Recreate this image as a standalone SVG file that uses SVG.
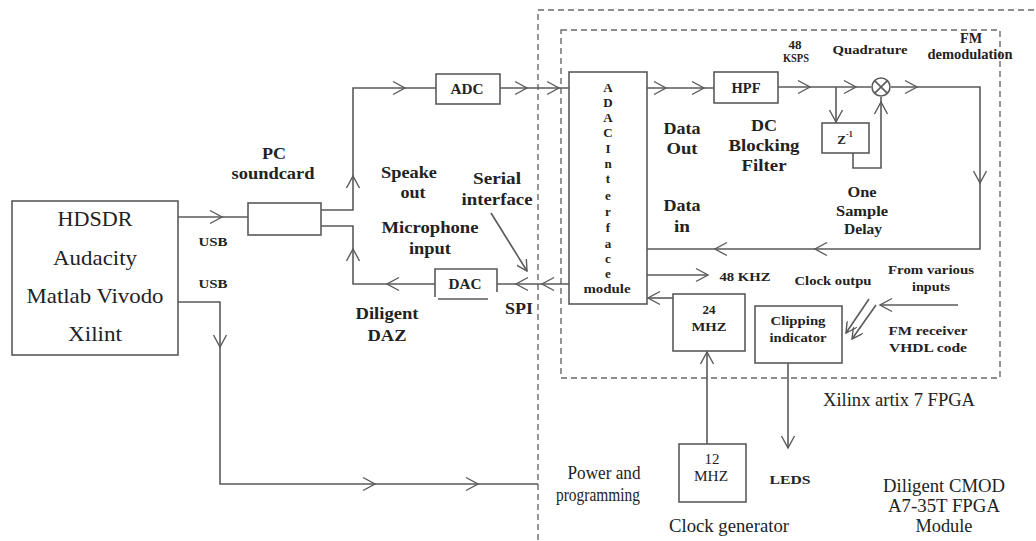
<svg xmlns="http://www.w3.org/2000/svg" xmlns:xlink="http://www.w3.org/1999/xlink" width="1036" height="541" viewBox="0 0 1036 541">
  <style>
    .bx{fill:#fff;stroke:#5a5a5a;stroke-width:1.6}
    .ln{fill:none;stroke:#5a5a5a;stroke-width:1.6}
    .dash{fill:none;stroke:#6a6a6a;stroke-width:1.4;stroke-dasharray:6 4}
    .ch{fill:none;stroke:#5a5a5a;stroke-width:1.4}
    text{font-family:"Liberation Serif","Times New Roman",serif;fill:#222;text-anchor:middle;dominant-baseline:central}
    .b{font-weight:bold;font-size:16px}
    .bm{font-weight:bold;font-size:14px}
    .bs{font-weight:bold;font-size:13px}
    .r{font-size:18.5px}
    .rl{font-size:21px}
  </style>
  <defs>
    <!-- open chevron arrowhead, tip at origin, pointing +x -->
    <path id="chev" d="M-12,-6.5 L0,0 L-12,6.5" class="ch"/>
    <marker id="tipm" viewBox="0 0 12 12" refX="11" refY="6" markerWidth="12" markerHeight="12" markerUnits="userSpaceOnUse" orient="auto">
      <path d="M0,0 L11,6 L0,12" fill="none" stroke="#5a5a5a" stroke-width="1.4"/>
    </marker>
  </defs>

  <!-- board and FPGA outlines -->
  <g id="board-outline">
    <rect class="dash" x="538" y="10" width="530" height="560"/>
  </g>
  <g id="fpga-outline">
    <rect class="dash" x="561" y="30" width="439" height="348"/>
  </g>

  <!-- connectors -->
  <g id="connectors">
    <!-- USB to soundcard -->
    <path class="ln" d="M178,217 H248"/>
    <use xlink:href="#chev" transform="translate(222,217)"/>
    <!-- USB power and programming -->
    <path class="ln" d="M178,302 H220 V484 H538"/>
    <use xlink:href="#chev" transform="translate(220,347) rotate(90)"/>
    <use xlink:href="#chev" transform="translate(375,484)"/>
    <use xlink:href="#chev" transform="translate(478,484)"/>
    <!-- speaker out to ADC -->
    <path class="ln" d="M321,210 H353 V88 H436"/>
    <use xlink:href="#chev" transform="translate(353,176) rotate(-90)"/>
    <use xlink:href="#chev" transform="translate(405,88)"/>
    <!-- ADC to interface -->
    <path class="ln" d="M500,88 H569"/>
    <use xlink:href="#chev" transform="translate(527,88)"/>
    <use xlink:href="#chev" transform="translate(559,88)"/>
    <!-- interface to HPF -->
    <path class="ln" d="M647,88 H714"/>
    <use xlink:href="#chev" transform="translate(666,88)"/>
    <use xlink:href="#chev" transform="translate(704,88)"/>
    <!-- HPF to mixer, tap to delay -->
    <path class="ln" d="M778,87 H871"/>
    <use xlink:href="#chev" transform="translate(810,87)"/>
    <use xlink:href="#chev" transform="translate(856,87)"/>
    <path class="ln" d="M836,87 V123"/>
    <use xlink:href="#chev" transform="translate(836,122) rotate(90)"/>
    <!-- delay to mixer -->
    <path class="ln" d="M853,153 V168 H881 V97"/>
    <use xlink:href="#chev" transform="translate(881,102) rotate(-90)"/>
    <!-- mixer output back to interface -->
    <path class="ln" d="M891,87 H980 V249 H647"/>
    <use xlink:href="#chev" transform="translate(917,87)"/>
    <use xlink:href="#chev" transform="translate(980,183) rotate(90)"/>
    <use xlink:href="#chev" transform="translate(815,249) rotate(180)"/>
    <use xlink:href="#chev" transform="translate(715,249) rotate(180)"/>
    <!-- 48 KHZ clock -->
    <path class="ln" d="M647,275 H708"/>
    <use xlink:href="#chev" transform="translate(708,275)"/>
    <!-- 24 MHZ to interface -->
    <path class="ln" d="M673,298 H648"/>
    <use xlink:href="#chev" transform="translate(648,298) rotate(180)"/>
    <!-- 12 MHZ to 24 MHZ -->
    <path class="ln" d="M707,444 V352"/>
    <use xlink:href="#chev" transform="translate(707,352) rotate(-90)"/>
    <!-- clipping to LEDs -->
    <path class="ln" d="M788,363 V448"/>
    <use xlink:href="#chev" transform="translate(788,448) rotate(90)"/>
    <!-- interface to DAC to microphone input -->
    <path class="ln" d="M569,284 H497"/>
    <use xlink:href="#chev" transform="translate(542,284) rotate(180)"/>
    <use xlink:href="#chev" transform="translate(516,284) rotate(180)"/>
    <path class="ln" d="M435,284 H353 V226 H321"/>
    <use xlink:href="#chev" transform="translate(387,284) rotate(180)"/>
    <use xlink:href="#chev" transform="translate(353,249) rotate(-90)"/>
    <!-- serial interface pointer -->
    <path class="ln" d="M491,213 L527,271" marker-end="url(#tipm)"/>
    <!-- inputs to clipping indicator -->
    <path class="ln" d="M958,305 H881"/>
    <use xlink:href="#chev" transform="translate(880,305) rotate(180)"/>
    <path class="ln" d="M869,299 L846,333" marker-end="url(#tipm)"/>
    <path class="ln" d="M876,305 L852,339" marker-end="url(#tipm)"/>
  </g>

  <!-- nodes -->
  <g id="pc-software">
    <rect class="bx" x="12" y="201" width="166" height="154"/>
    <text class="rl" x="95" y="219" textLength="75" lengthAdjust="spacingAndGlyphs">HDSDR</text>
    <text class="rl" x="95" y="258" textLength="84" lengthAdjust="spacingAndGlyphs">Audacity</text>
    <text class="rl" x="95" y="296" textLength="137" lengthAdjust="spacingAndGlyphs">Matlab Vivodo</text>
    <text class="rl" x="95" y="334" textLength="54" lengthAdjust="spacingAndGlyphs">Xilint</text>
  </g>
  <g id="usb-labels">
    <text class="bs" x="213" y="241" font-size="11.5" textLength="29" lengthAdjust="spacingAndGlyphs">USB</text>
    <text class="bs" x="213" y="283" font-size="11.5" textLength="29" lengthAdjust="spacingAndGlyphs">USB</text>
  </g>
  <g id="pc-soundcard">
    <rect class="bx" x="248" y="203" width="73" height="32"/>
    <text class="b" x="274" y="153" textLength="24" lengthAdjust="spacingAndGlyphs">PC</text>
    <text class="b" x="273" y="173" textLength="83" lengthAdjust="spacingAndGlyphs">soundcard</text>
  </g>
  <g id="audio-labels">
    <text class="b" x="409" y="172" textLength="56" lengthAdjust="spacingAndGlyphs">Speake</text>
    <text class="b" x="413" y="192" textLength="25" lengthAdjust="spacingAndGlyphs">out</text>
    <text class="b" x="497" y="178" textLength="48" lengthAdjust="spacingAndGlyphs">Serial</text>
    <text class="b" x="497" y="199" textLength="71" lengthAdjust="spacingAndGlyphs">interface</text>
    <text class="b" x="430" y="227" textLength="97" lengthAdjust="spacingAndGlyphs">Microphone</text>
    <text class="b" x="430" y="248" textLength="42" lengthAdjust="spacingAndGlyphs">input</text>
    <text class="b" x="519" y="308" textLength="28" lengthAdjust="spacingAndGlyphs">SPI</text>
    <text class="b" x="387" y="313" textLength="63" lengthAdjust="spacingAndGlyphs">Diligent</text>
    <text class="b" x="387" y="335" textLength="39" lengthAdjust="spacingAndGlyphs">DAZ</text>
  </g>
  <g id="adc">
    <rect class="bx" x="436" y="74" width="64" height="30"/>
    <text class="bm" x="467" y="89" textLength="33" lengthAdjust="spacingAndGlyphs">ADC</text>
  </g>
  <g id="dac">
    <path class="ln" d="M435,297 V269 H497 V292"/>
    <path class="ln" d="M438,299 H488"/>
    <text class="bm" x="465" y="284" textLength="33" lengthAdjust="spacingAndGlyphs">DAC</text>
  </g>
  <g id="adac-interface">
    <rect class="bx" x="569" y="72" width="78" height="232"/>
    <g class="bs">
      <text x="608" y="87">A</text>
      <text x="608" y="102">D</text>
      <text x="608" y="117">A</text>
      <text x="608" y="132">C</text>
      <text x="608" y="148">I</text>
      <text x="608" y="163">n</text>
      <text x="608" y="178">t</text>
      <text x="608" y="195">e</text>
      <text x="608" y="211">r</text>
      <text x="608" y="227">f</text>
      <text x="608" y="243">a</text>
      <text x="608" y="258">c</text>
      <text x="608" y="273">e</text>
      <text x="607" y="288" textLength="47" lengthAdjust="spacingAndGlyphs">module</text>
    </g>
  </g>
  <g id="data-labels">
    <text class="b" x="682" y="128" textLength="37" lengthAdjust="spacingAndGlyphs">Data</text>
    <text class="b" x="682" y="148" textLength="31" lengthAdjust="spacingAndGlyphs">Out</text>
    <text class="b" x="682" y="205" textLength="37" lengthAdjust="spacingAndGlyphs">Data</text>
    <text class="b" x="682" y="226" textLength="16" lengthAdjust="spacingAndGlyphs">in</text>
  </g>
  <g id="hpf">
    <rect class="bx" x="714" y="72" width="64" height="31"/>
    <text class="bm" x="746" y="88" textLength="29" lengthAdjust="spacingAndGlyphs">HPF</text>
    <text class="b" x="764" y="125" font-size="17" textLength="26" lengthAdjust="spacingAndGlyphs">DC</text>
    <text class="b" x="764" y="145" font-size="17" textLength="71" lengthAdjust="spacingAndGlyphs">Blocking</text>
    <text class="b" x="764" y="165" font-size="17" textLength="45" lengthAdjust="spacingAndGlyphs">Filter</text>
  </g>
  <g id="rate-label">
    <text class="bs" x="795" y="44" font-size="9">48</text>
    <text class="bs" x="796" y="57" font-size="9" textLength="26" lengthAdjust="spacingAndGlyphs">KSPS</text>
  </g>
  <g id="mixer">
    <circle class="ln" cx="881" cy="87" r="9"/>
    <path class="ln" d="M874.6,80.6 L887.4,93.4 M887.4,80.6 L874.6,93.4"/>
    <text class="bs" x="870" y="49" textLength="75" lengthAdjust="spacingAndGlyphs">Quadrature</text>
    <text class="bm" x="971" y="38" textLength="22" lengthAdjust="spacingAndGlyphs">FM</text>
    <text class="bm" x="970" y="54" textLength="85" lengthAdjust="spacingAndGlyphs">demodulation</text>
  </g>
  <g id="delay">
    <rect class="bx" x="822" y="123" width="47" height="30"/>
    <text class="bs" x="845" y="139">Z<tspan font-size="8" dy="-5">-1</tspan></text>
    <text class="bm" x="862" y="192" textLength="29" lengthAdjust="spacingAndGlyphs">One</text>
    <text class="bm" x="862" y="211" textLength="52" lengthAdjust="spacingAndGlyphs">Sample</text>
    <text class="bm" x="863" y="229" textLength="38" lengthAdjust="spacingAndGlyphs">Delay</text>
  </g>
  <g id="clock-labels">
    <text class="bs" x="745" y="276" textLength="51" lengthAdjust="spacingAndGlyphs">48 KHZ</text>
    <text class="bs" x="833" y="280" textLength="77" lengthAdjust="spacingAndGlyphs">Clock outpu</text>
    <text class="bs" x="931" y="269" textLength="86" lengthAdjust="spacingAndGlyphs">From various</text>
    <text class="bs" x="931" y="286" textLength="38" lengthAdjust="spacingAndGlyphs">inputs</text>
    <text class="bs" x="928" y="330" textLength="79" lengthAdjust="spacingAndGlyphs">FM receiver</text>
    <text class="bs" x="928" y="347" textLength="78" lengthAdjust="spacingAndGlyphs">VHDL code</text>
  </g>
  <g id="pll-24mhz">
    <rect class="bx" x="673" y="294" width="72" height="57"/>
    <text class="bs" x="709" y="309">24</text>
    <text class="bs" x="709" y="326" textLength="35" lengthAdjust="spacingAndGlyphs">MHZ</text>
  </g>
  <g id="clipping">
    <rect class="bx" x="755" y="306" width="87" height="57"/>
    <text class="bs" x="798" y="320" textLength="55" lengthAdjust="spacingAndGlyphs">Clipping</text>
    <text class="bs" x="798" y="337" textLength="57" lengthAdjust="spacingAndGlyphs">indicator</text>
  </g>
  <g id="fpga-label">
    <text class="r" x="899" y="400" textLength="152" lengthAdjust="spacingAndGlyphs">Xilinx artix 7 FPGA</text>
  </g>
  <g id="leds">
    <text class="bs" x="790" y="479" font-size="12" textLength="41" lengthAdjust="spacingAndGlyphs">LEDS</text>
  </g>
  <g id="osc-12mhz">
    <rect class="bx" x="679" y="444" width="67" height="58"/>
    <text x="712" y="459" font-size="15">12</text>
    <text x="711" y="476" font-size="15" textLength="34" lengthAdjust="spacingAndGlyphs">MHZ</text>
    <text class="r" x="729" y="526" textLength="120" lengthAdjust="spacingAndGlyphs">Clock generator</text>
  </g>
  <g id="power-label">
    <text class="r" x="604" y="473" textLength="73" lengthAdjust="spacingAndGlyphs">Power and</text>
    <text class="r" x="598" y="495" textLength="84" lengthAdjust="spacingAndGlyphs">programming</text>
  </g>
  <g id="module-label">
    <text class="r" x="944" y="486" textLength="122" lengthAdjust="spacingAndGlyphs">Diligent CMOD</text>
    <text class="r" x="944" y="506" textLength="112" lengthAdjust="spacingAndGlyphs">A7-35T FPGA</text>
    <text class="r" x="944" y="526" textLength="57" lengthAdjust="spacingAndGlyphs">Module</text>
  </g>
</svg>
